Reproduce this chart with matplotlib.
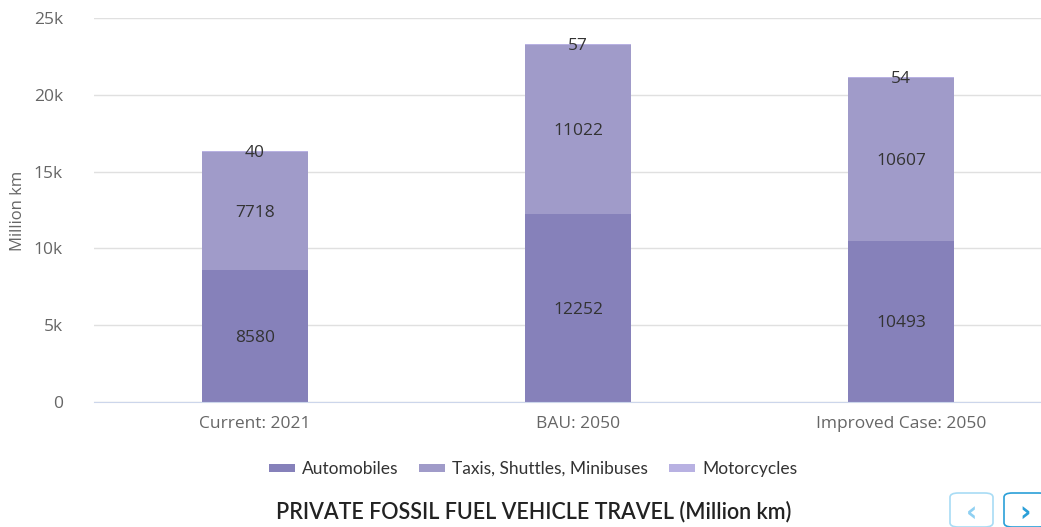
import numpy as np
import matplotlib
matplotlib.use('Agg')
from matplotlib import pyplot as plt
from matplotlib.patches import Patch, FancyBboxPatch

plt.rcParams['font.family'] = ['Open Sans', 'DejaVu Sans']

categories = ['Current: 2021', 'BAU: 2050', 'Improved Case: 2050']
series = ['Automobiles', 'Taxis, Shuttles, Minibuses', 'Motorcycles']
automobiles = [8580, 12252, 10493]
taxis = [7718, 11022, 10607]
motorcycles = [40, 57, 54]
colors = ['#8681ba', '#a09bc9', '#b8b1e2']

W, H = 1041, 527
fig = plt.figure(figsize=(W / 100, H / 100), dpi=100, facecolor='w')
# plot area (pixel coords), right edge runs past the image like the original
left, right, top, bottom = 93.5, 1062.5, 18, 402
ax = fig.add_axes([left / W, 1 - bottom / H, (right - left) / W, (bottom - top) / H])

x = np.arange(len(categories))
bw = 0.33
base = np.zeros(len(categories))
for vals, col, name in zip([automobiles, taxis, motorcycles], colors, series):
    vals = np.array(vals, dtype=float)
    ax.bar(x, vals, bw, bottom=base, color=col, label=name, zorder=2)
    for xi, b, v in zip(x, base, vals):
        ax.text(xi, b + v / 2, '%d' % v, ha='center', va='center_baseline',
                fontsize=12.5, color='#333333', zorder=3)
    base += vals

ax.set_xlim(-0.5, 2.5)
ax.set_ylim(0, 25000)
ax.set_yticks(np.arange(0, 25001, 5000))
ax.set_yticklabels(['0', '5k', '10k', '15k', '20k', '25k'])
ax.set_xticks(x)
ax.set_xticklabels(categories)
ax.grid(axis='y', color='#e0e0e0', linewidth=1, zorder=0)
for s in ['top', 'right', 'left']:
    ax.spines[s].set_visible(False)
ax.spines['bottom'].set_color('#ccd6eb')
ax.tick_params(axis='both', length=0, labelsize=12.5, labelcolor='#666666')
ax.tick_params(axis='y', pad=22)
ax.tick_params(axis='x', pad=10)
fig.text(18 / W, 1 - 211 / H, 'Million km', rotation=90, ha='center', va='center',
         fontsize=12, color='#666666')

handles = [Patch(facecolor=c, label=n) for c, n in zip(colors, series)]
fig.legend(handles=handles, loc='center', bbox_to_anchor=(533 / W, 1 - 469 / H),
           ncol=3, frameon=False, handlelength=1.5, handleheight=0.3,
           handletextpad=0.4, columnspacing=1.2,
           prop={'family': 'Lato', 'size': 12.5}, labelcolor='#333333')

fig.text(534 / W, 1 - 512 / H, 'PRIVATE FOSSIL FUEL VEHICLE TRAVEL (Million km)',
         ha='center', va='center', fontsize=15.5, family='Lato', weight='semibold',
         color='#222222')

# navigation buttons
for x0, ec, fc_txt, ch in [(950, '#a8dcf5', '#8fd0f2', '\u2039'), (1004, '#2a9fd8', '#2a9fd8', '\u203a')]:
    fig.patches.append(FancyBboxPatch((x0 / W, 0), 43 / W, 34 / H,
                                      boxstyle='round,pad=0,rounding_size=0.008',
                                      transform=fig.transFigure, fc='w', ec=ec, lw=1.2))
    fig.text((x0 + 21.5) / W, 1 - 513 / H, ch, ha='center', va='center', fontsize=20,
             color=fc_txt, family='DejaVu Sans', weight='bold')

plt.savefig('out.png', dpi=100)
